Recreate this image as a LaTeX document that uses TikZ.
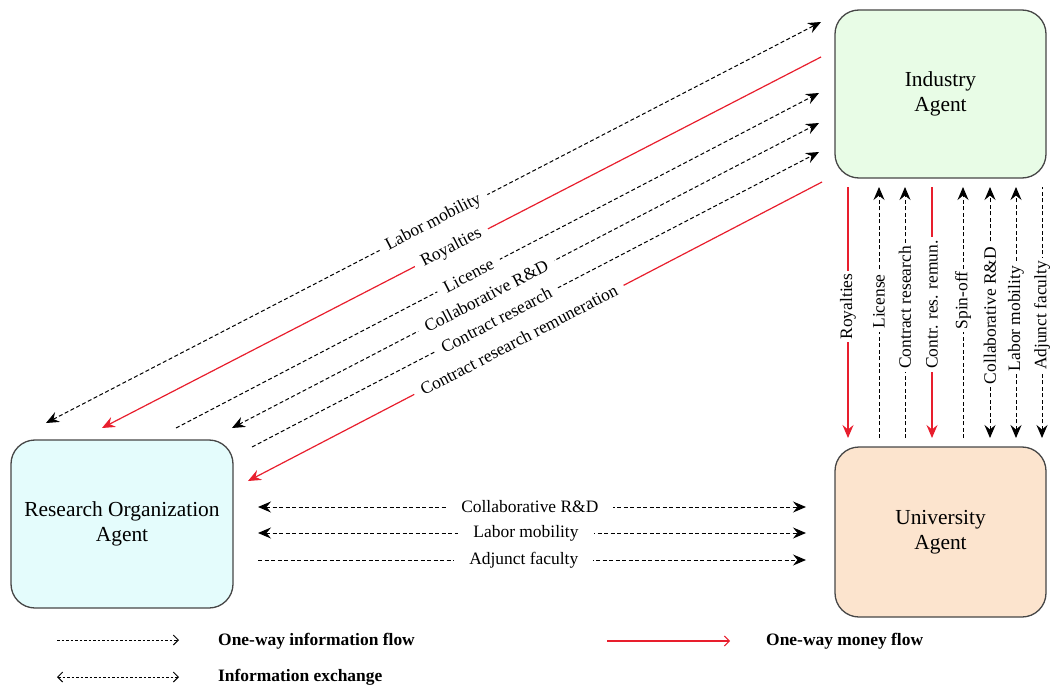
\documentclass[tikz,border=0pt]{standalone}
\usepackage{fontspec}
\setmainfont{Liberation Serif}
\usetikzlibrary{arrows.meta}
\definecolor{redline}{RGB}{232,30,45}
\definecolor{indfill}{RGB}{232,252,230}
\definecolor{rofill}{RGB}{228,252,252}
\definecolor{unifill}{RGB}{252,228,206}
\definecolor{boxdraw}{RGB}{70,70,70}
\begin{document}
\begin{tikzpicture}[x=1bp,y=-1bp,
  >={Stealth[length=13bp,width=11bp,inset=4.5bp]},
  agent/.style={draw=boxdraw, line width=1.3bp, rounded corners=24bp, align=center,
    font=\fontsize{21.5}{25}\selectfont, inner sep=0pt},
  info/.style={dash pattern=on 4bp off 2.5bp, line width=1bp, black},
  money/.style={line width=1.2bp, redline},
  lbl/.style={font=\fontsize{17.5}{19}\selectfont, fill=white, inner xsep=8bp, inner ysep=1bp, sloped, text=black},
  vlbl/.style={lbl, inner xsep=3bp},
  hlbl/.style={lbl, inner xsep=15bp},
  legtip/.style={-{Straight Barb[length=5bp,width=10bp,line width=1bp]}},
  legtext/.style={font=\fontsize{17.5}{20}\selectfont\bfseries, anchor=west, inner sep=0pt}
]
\useasboundingbox (0,0) rectangle (1050,687);

% agents
\node[agent, fill=indfill, minimum width=211bp, minimum height=168bp] (ind) at (940.5,94) {Industry\\Agent};
\node[agent, fill=unifill, minimum width=211bp, minimum height=170bp] (uni) at (940.5,532) {University\\Agent};
\node[agent, fill=rofill, minimum width=222bp, minimum height=168bp] (ro) at (122,524) {Research Organization\\Agent};

% diagonal connectors (lower-left end A, upper-right end B)
\coordinate (d1a) at (46,423);  \coordinate (d1b) at (821,22);
\coordinate (d2a) at (102,428); \coordinate (d2b) at (821,57);
\coordinate (d3a) at (176,428); \coordinate (d3b) at (819,93);
\coordinate (d4a) at (232,428); \coordinate (d4b) at (819,123);
\coordinate (d5a) at (252,447); \coordinate (d5b) at (819,152);
\coordinate (d6a) at (248,481); \coordinate (d6b) at (822,182);

\draw[info,<->] (d1a) -- node[lbl,pos=0.50]{Labor mobility} (d1b);
\draw[money,<-] (d2a) -- node[lbl,pos=0.486]{Royalties} (d2b);
\draw[info,->] (d3a) -- node[lbl,pos=0.455]{License} (d3b);
\draw[info,<->] (d4a) -- node[lbl,pos=0.433]{Collaborative R\&D} (d4b);
\draw[info,->] (d5a) -- node[lbl,pos=0.431]{Contract research} (d5b);
\draw[money,<-] (d6a) -- node[lbl,pos=0.472]{Contract research remuneration} (d6b);

% vertical connectors (bottom end A, top end B)
\foreach \n/\x in {v1/848,v2/879,v3/905,v4/932,v5/963,v6/990,v7/1016,v8/1042}{
  \coordinate (\n a) at (\x,438); \coordinate (\n b) at (\x,187);
}
\draw[money,<-] (v1a) -- node[vlbl,pos=0.524]{Royalties} (v1b);
\draw[info,->] (v2a) -- node[vlbl,pos=0.544]{License} (v2b);
\draw[info,->] (v3a) -- node[vlbl,pos=0.52]{Contract research} (v3b);
\draw[money,<-] (v4a) -- node[vlbl,pos=0.532]{Contr. res. remun.} (v4b);
\draw[info,->] (v5a) -- node[vlbl,pos=0.548]{Spin-off} (v5b);
\draw[info,<->] (v6a) -- node[vlbl,pos=0.488]{Collaborative R\&D} (v6b);
\draw[info,<->] (v7a) -- node[vlbl,pos=0.476]{Labor mobility} (v7b);
\draw[info,<-] (v8a) -- node[vlbl,pos=0.488]{Adjunct faculty} (v8b);

% horizontal connectors
\coordinate (h1a) at (258,507); \coordinate (h1b) at (806,507);
\coordinate (h2a) at (258,533); \coordinate (h2b) at (806,533);
\coordinate (h3a) at (258,560); \coordinate (h3b) at (806,560);
\draw[info,<->] (h1a) -- node[hlbl,pos=0.496]{Collaborative R\&D} (h1b);
\draw[info,<->] (h2a) -- node[hlbl,pos=0.489]{Labor mobility} (h2b);
\draw[info,->] (h3a) -- node[hlbl,pos=0.485]{Adjunct faculty} (h3b);

% legend
\coordinate (g1a) at (57,640); \coordinate (g1b) at (179,640);
\coordinate (g2a) at (607,641); \coordinate (g2b) at (730,641);
\coordinate (g3a) at (57,677); \coordinate (g3b) at (179,677);
\draw[info,dash pattern=on 2.5bp off 2bp,legtip] (g1a) -- (g1b);
\draw[money,legtip] (g2a) -- (g2b);
\draw[info,dash pattern=on 2.5bp off 2bp,{Straight Barb[length=5bp,width=10bp,line width=1bp]}-{Straight Barb[length=5bp,width=10bp,line width=1bp]}] (g3a) -- (g3b);
\node[legtext] (t1) at (218,641) {One-way information flow};
\node[legtext] (t2) at (766,641) {One-way money flow};
\node[legtext] (t3) at (218,677) {Information exchange};
\end{tikzpicture}
\end{document}
